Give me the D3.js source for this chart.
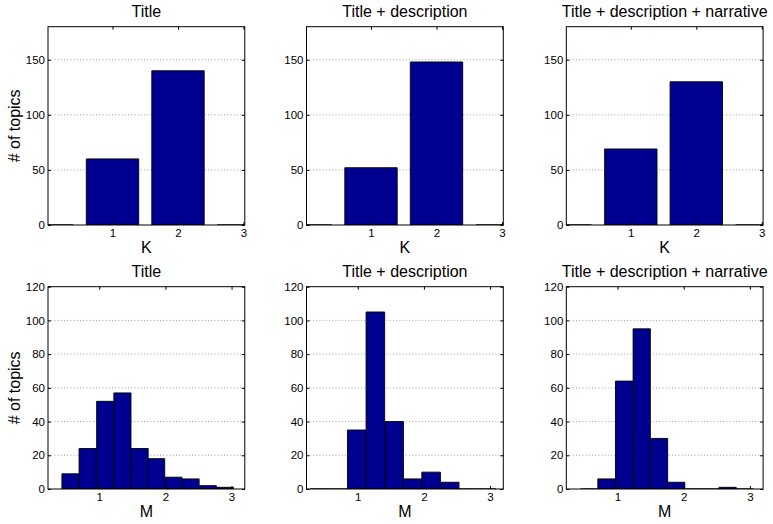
<!DOCTYPE html>
<html>
<head>
<meta charset="utf-8">
<script src="https://cdn.jsdelivr.net/npm/d3@7"></script>
<style>
  body { margin: 0; background: #fff; }
  text { font-family: "Liberation Sans", Arial, Helvetica, sans-serif; fill: #000; }
</style>
</head>
<body>
<div id="chart-area"></div>
<script>
// titles of the three columns
const titles = ["Title", "Title + description", "Title + description + narrative"]

// top row: K (bar centres and counts)
const kValues = [0, 1, 2, 3]
const kTitle = [0, 60, 140, 0]
const kTitleDesc = [0, 52, 148, 0]
const kTitleDescNarr = [0, 69, 130, 0]
const kTicks = [1, 2, 3]
const kYTicks = [0, 50, 100, 150]

// bottom row: M histograms (bin centres and counts)
const mCentersTitle = [0.565, 0.824, 1.09, 1.35, 1.61, 1.86, 2.12, 2.38, 2.64, 2.90]
const mCountsTitle = [9, 24, 52, 57, 24, 18, 7, 6, 2, 1]
const mCentersTitleDesc = [0.422, 0.703, 0.985, 1.266, 1.55, 1.83, 2.109, 2.39, 2.67, 2.95]
const mCountsTitleDesc = [0, 0, 35, 105, 40, 6, 10, 4, 0, 0]
const mCentersTitleDescNarr = [0.571, 0.832, 1.099, 1.365, 1.627, 1.886, 2.145, 2.404, 2.663, 2.922]
const mCountsTitleDescNarr = [0, 6, 64, 95, 30, 4, 0, 0, 1, 0]
const mTicks = [1, 2, 3]
const mYTicks = [0, 20, 40, 60, 80, 100, 120]

const width = 773, height = 524
const colLeft = [48, 306.5, 566.3]
const boxW = 196.8
const barColor = "#000090"

const svg = d3.select("#chart-area").append("svg")
    .attr("width", width)
    .attr("height", height)

const defs = svg.append("defs")

let panels = [
  { row: 0, col: 0, x: kValues, y: kTitle },
  { row: 0, col: 1, x: kValues, y: kTitleDesc },
  { row: 0, col: 2, x: kValues, y: kTitleDescNarr },
  { row: 1, col: 0, x: mCentersTitle, y: mCountsTitle },
  { row: 1, col: 1, x: mCentersTitleDesc, y: mCountsTitleDesc },
  { row: 1, col: 2, x: mCentersTitleDescNarr, y: mCountsTitleDescNarr }
]

panels.forEach((p, i) => drawPanel(p, i))

function drawPanel(p, i) {
  const top = p.row == 0 ? 26.7 : 286.7
  const h = p.row == 0 ? 198.3 : 202.3
  const left = colLeft[p.col]

  const x = d3.scaleLinear()
      .domain(p.row == 0 ? [0.015, 3.02] : [0.225, 3.2])
      .range([0, boxW])
  const y = d3.scaleLinear()
      .domain(p.row == 0 ? [0, 180] : [0, 120])
      .range([h, 0])
  const yTicks = p.row == 0 ? kYTicks : mYTicks
  const xTicks = p.row == 0 ? kTicks : mTicks
  const barW = p.row == 0 ? 0.8 : (p.x[1] - p.x[0])

  const g = svg.append("g")
      .attr("transform", "translate(" + left + "," + top + ")")

  defs.append("clipPath").attr("id", "clip" + i)
    .append("rect").attr("width", boxW).attr("height", h)

  // dotted grid
  g.append("g").selectAll("line")
    .data(yTicks.filter(d => d > 0 && y(d) > 0.5))
    .join("line")
      .attr("x1", 0).attr("x2", boxW)
      .attr("y1", d => y(d)).attr("y2", d => y(d))
      .attr("stroke", "#8a8a8a")
      .attr("stroke-width", 0.8)
      .attr("stroke-dasharray", "1,2.2")

  // bars (paths so zero height bars still show their edge)
  g.append("g").attr("clip-path", "url(#clip" + i + ")")
    .selectAll("path")
    .data(p.x.map((d, j) => ({ c: d, v: p.y[j] })))
    .join("path")
      .attr("d", d => {
        const x0 = x(d.c - barW / 2), x1 = x(d.c + barW / 2)
        return "M" + x0 + "," + y(0) + "V" + y(d.v) + "H" + x1 + "V" + y(0) + "Z"
      })
      .attr("fill", barColor)
      .attr("stroke", "#000")
      .attr("stroke-width", 0.9)

  // box
  g.append("rect")
      .attr("width", boxW).attr("height", h)
      .attr("fill", "none")
      .attr("stroke", "#000")
      .attr("stroke-width", 1)

  // axes with inward ticks
  g.append("g")
    .call(d3.axisLeft(y).tickValues(yTicks).tickSize(-3).tickPadding(3).tickFormat(d3.format("d")))
  g.append("g")
    .attr("transform", "translate(0," + h + ")")
    .call(d3.axisBottom(x).tickValues(xTicks).tickSize(-3).tickPadding(4.3).tickFormat(d3.format("d")))
  g.append("g")
    .attr("transform", "translate(" + boxW + ",0)")
    .call(d3.axisRight(y).tickValues(yTicks).tickSize(-3).tickFormat(""))
  g.append("g")
    .call(d3.axisTop(x).tickValues(xTicks).tickSize(-3).tickFormat(""))
  g.selectAll(".domain").remove()
  g.selectAll(".tick text")
      .style("font-family", '"Liberation Sans", Arial, sans-serif')
      .style("font-size", "11.5px")

  // title and axis labels
  g.append("text")
      .attr("x", boxW / 2).attr("y", -10.2)
      .attr("text-anchor", "middle")
      .style("font-size", "16px")
      .text(titles[p.col])
  g.append("text")
      .attr("x", boxW / 2).attr("y", h + 28.5)
      .attr("text-anchor", "middle")
      .style("font-size", "16px")
      .text(p.row == 0 ? "K" : "M")
  if (p.col == 0) {
    g.append("text")
      .attr("transform", "translate(" + (-28.5) + "," + (h / 2) + ") rotate(-90)")
      .attr("text-anchor", "middle")
      .style("font-size", "16px")
      .text("# of topics")
  }
}
</script>
</body>
</html>
